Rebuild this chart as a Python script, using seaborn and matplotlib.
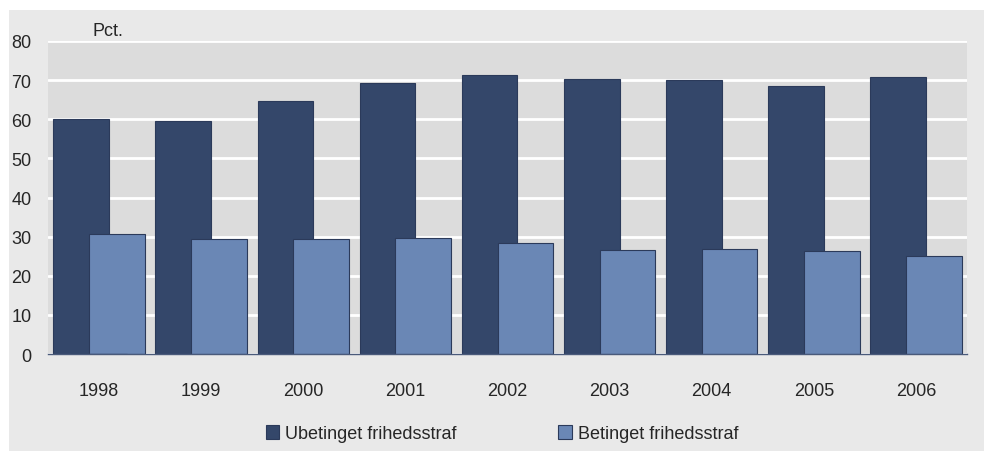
import pandas as pd
import matplotlib.pyplot as plt
import seaborn as sns
from matplotlib.patches import Rectangle

# values
years = ['1998', '1999', '2000', '2001', '2002', '2003', '2004', '2005', '2006']
ubetinget = [60.0, 59.5, 64.6, 69.3, 71.2, 70.2, 70.0, 68.5, 70.8]
betinget = [30.6, 29.5, 29.5, 29.7, 28.4, 26.7, 26.8, 26.2, 25.0]
series_names = ['Ubetinget frihedsstraf', 'Betinget frihedsstraf']
colors = ['#34476a', '#6a87b5']

df = pd.DataFrame({
    'year': years * 2,
    'value': ubetinget + betinget,
    'series': [series_names[0]] * len(years) + [series_names[1]] * len(years),
})

sns.set_style("whitegrid", {'axes.facecolor': '#dcdcdc', 'grid.color': 'white'})
plt.rcParams['font.family'] = ['Liberation Sans', 'DejaVu Sans']
fs = 13

fig = plt.figure(figsize=(9.84, 4.52), dpi=100)
fig.patch.set_facecolor('white')
# grey panel behind the chart
fig.add_artist(Rectangle((9 / 984, 0), 1 - 9 / 984, 1 - 11 / 452, transform=fig.transFigure,
                         facecolor='#e9e9e9', edgecolor='none', zorder=-10))
ax = fig.add_axes([48 / 984, 1 - 355 / 452, (967 - 48) / 984, (355 - 42) / 452])

sns.barplot(x='year', y='value', hue='series', data=df, palette=colors, width=0.7,
            dodge=True, saturation=1, edgecolor='#2b3a5a', linewidth=0.8, ax=ax)

# widen bars so the light bar overlaps the dark one
for p in ax.patches:
    c = p.get_x() + p.get_width() / 2
    p.set_width(0.545)
    p.set_x(c - 0.545 / 2)

ax.set_ylim(0, 80)
ax.set_xlim(-0.5, len(years) - 0.5)
ax.set_yticks(range(0, 81, 10))
ax.grid(axis='y', color='white', linewidth=2)
ax.grid(axis='x', visible=False)
ax.set_axisbelow(True)
for s in ['top', 'right', 'left']:
    ax.spines[s].set_visible(False)
ax.spines['bottom'].set_color('#4a5a7a')
ax.spines['bottom'].set_linewidth(1)
ax.set_xlabel('')
ax.set_ylabel('')
ax.tick_params(axis='y', length=0, pad=12, labelsize=fs)
ax.tick_params(axis='x', length=0, pad=20, labelsize=fs)

fig.text(93 / 984, 1 - 32 / 452, 'Pct.', fontsize=fs, va='center', ha='left')

sns.move_legend(ax, 'center', bbox_to_anchor=(0.494, -0.255), ncol=2, frameon=False,
                title=None, fontsize=fs, handlelength=0.75, handleheight=0.75,
                handletextpad=0.35, columnspacing=5.6)

fig.savefig('out.png', dpi=100, facecolor=fig.get_facecolor())
